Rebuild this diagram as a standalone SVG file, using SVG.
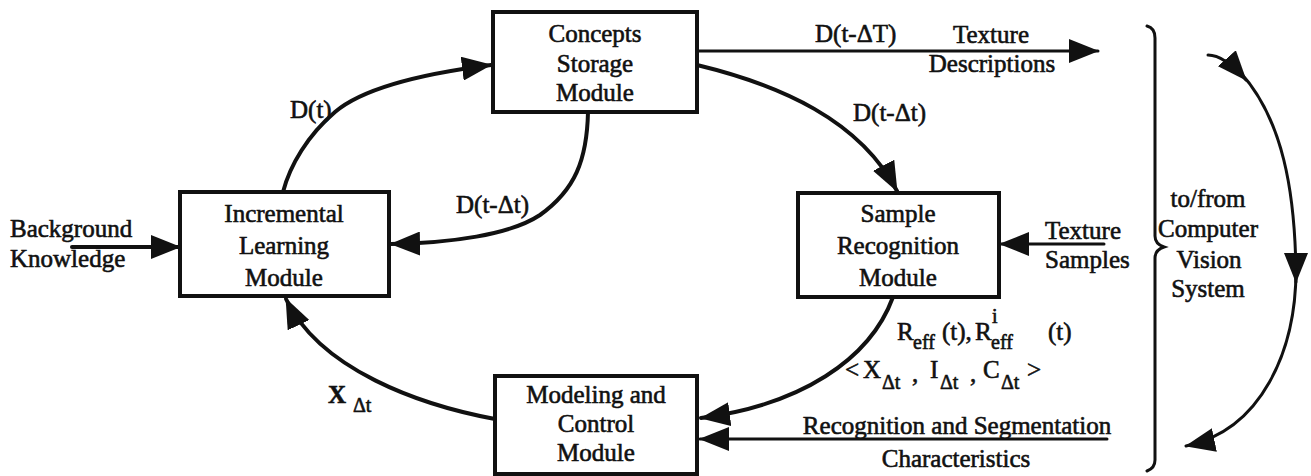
<svg xmlns="http://www.w3.org/2000/svg" width="1311" height="476" viewBox="0 0 1311 476">
<style>
.t{font-family:"Liberation Serif","Times New Roman",serif;font-size:25px;fill:#111;stroke:#111;stroke-width:0.6}
.s{font-size:20px}
.c{text-anchor:middle}
.box{fill:#fff;stroke:#111;stroke-width:4}
.ln{fill:none;stroke:#111;stroke-width:4;stroke-linecap:round}
.th{stroke-width:3}
</style>
<defs>
<marker id="ah" markerUnits="userSpaceOnUse" markerWidth="30" markerHeight="24" viewBox="0 0 30 24" refX="29" refY="12" orient="auto">
<path d="M0,0 L30,12 L0,24 Z" fill="#111"/>
</marker>
</defs>
<rect width="1311" height="476" fill="#fff"/>
<g id="connectors">
<path class="ln" d="M283,192 C290,165 308,135 335,112 C362,89 420,74 491,65" marker-end="url(#ah)"/>
<path class="ln" d="M588,112 C587,160 575,190 540,215 C510,235 450,243 391,244" marker-end="url(#ah)"/>
<path class="ln th" d="M697,51 H1098" marker-end="url(#ah)"/>
<path class="ln" d="M697,65 C780,85 860,120 897,191" marker-end="url(#ah)"/>
<path class="ln" d="M893,297 C870,360 800,405 701,418" marker-end="url(#ah)"/>
<path class="ln" d="M495,419 C420,405 320,370 286,299" marker-end="url(#ah)"/>
<path class="ln" d="M72,247 H180" marker-end="url(#ah)"/>
<path class="ln th" d="M1104,244 H1000" marker-end="url(#ah)"/>
<path class="ln th" d="M1107,439 H700" marker-end="url(#ah)"/>
<path class="ln th" d="M1147,26 Q1155,28 1155,38 V236 Q1155,244 1164,247 Q1155,250 1155,258 V460 Q1155,468 1147,471"/>
<path class="ln th" d="M1208,55 Q1224,55 1246,80" marker-end="url(#ah)"/>
<path class="ln th" d="M1240,72 C1282,118 1296,190 1296,282" marker-end="url(#ah)"/>
<path class="ln th" d="M1296,270 C1296,350 1262,430 1186,446" marker-end="url(#ah)"/>
</g>
<g id="concepts">
<rect class="box" x="493" y="12" width="204" height="100"/>
<text class="t c" x="595" y="42">Concepts</text>
<text class="t c" x="595" y="72">Storage</text>
<text class="t c" x="595" y="101">Module</text>
</g>
<g id="incremental">
<rect class="box" x="180" y="192" width="209" height="104"/>
<text class="t c" x="284" y="222">Incremental</text>
<text class="t c" x="284" y="254">Learning</text>
<text class="t c" x="284" y="286">Module</text>
</g>
<g id="sample">
<rect class="box" x="798" y="193" width="201" height="104"/>
<text class="t c" x="898" y="222">Sample</text>
<text class="t c" x="898" y="254">Recognition</text>
<text class="t c" x="898" y="286">Module</text>
</g>
<g id="modeling">
<rect class="box" x="495" y="376" width="202" height="98"/>
<text class="t c" x="596" y="403">Modeling and</text>
<text class="t c" x="596" y="432">Control</text>
<text class="t c" x="596" y="461">Module</text>
</g>
<g id="labels">
<text class="t" x="290" y="118">D(t)</text>
<text class="t" x="456" y="213">D(t-Δt)</text>
<text class="t" x="815" y="42">D(t-ΔT)</text>
<text class="t" x="853" y="121">D(t-Δt)</text>
<text class="t c" x="991" y="43">Texture</text>
<text class="t c" x="992" y="72">Descriptions</text>
<text class="t" x="10" y="237">Background</text>
<text class="t" x="10" y="267">Knowledge</text>
<text class="t" x="1045" y="239">Texture</text>
<text class="t" x="1045" y="268">Samples</text>
<text class="t c" x="1208" y="207">to/from</text>
<text class="t c" x="1208" y="237">Computer</text>
<text class="t c" x="1209" y="268">Vision</text>
<text class="t c" x="1208" y="297">System</text>
<text class="t" x="328" y="403" font-weight="bold">X</text>
<text class="t s" x="353" y="412">Δt</text>
<text class="t" x="897" y="340">R</text>
<text class="t s" x="913" y="349">eff</text>
<text class="t" x="942" y="340">(t),</text>
<text class="t" x="975" y="340">R</text>
<text class="t s" x="992" y="323">i</text>
<text class="t s" x="991" y="349">eff</text>
<text class="t" x="1048" y="340">(t)</text>
<text class="t" x="845" y="378">&lt;</text>
<text class="t" x="863" y="378">X</text>
<text class="t s" x="882" y="389">Δt</text>
<text class="t" x="912" y="382">,</text>
<text class="t" x="930" y="378">I</text>
<text class="t s" x="940" y="389">Δt</text>
<text class="t" x="970" y="382">,</text>
<text class="t" x="983" y="378">C</text>
<text class="t s" x="1001" y="389">Δt</text>
<text class="t" x="1027" y="378">&gt;</text>
<text class="t c" x="957" y="434">Recognition and Segmentation</text>
<text class="t c" x="956" y="467">Characteristics</text>
</g>
</svg>
